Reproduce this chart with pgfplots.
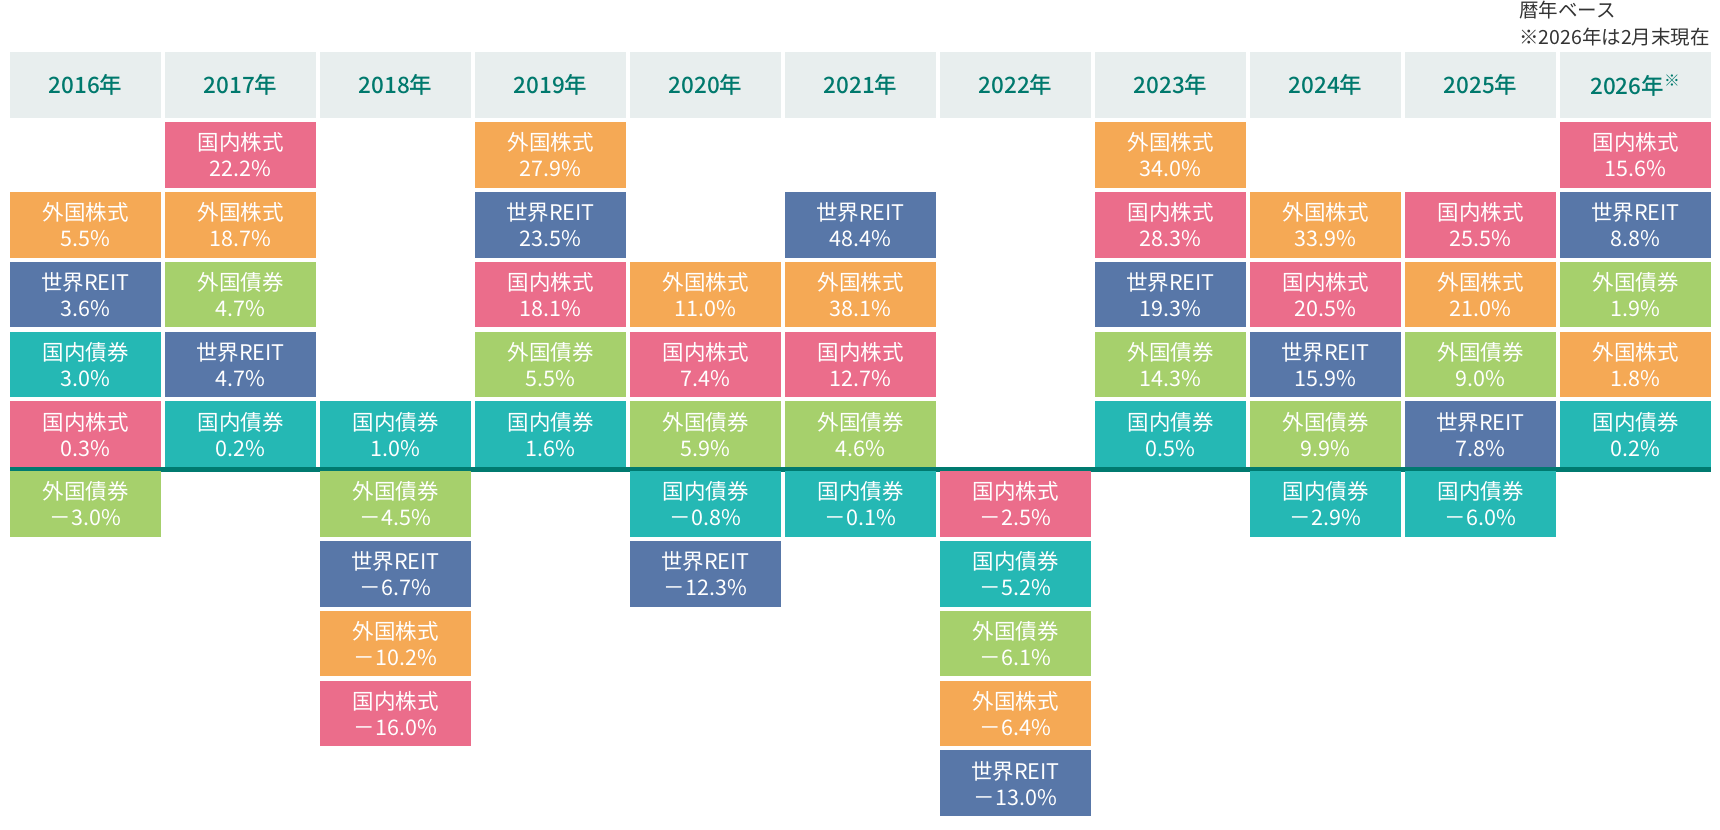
\documentclass[border=0pt]{standalone}
\usepackage{pgfplots}
\pgfplotsset{compat=1.18}
\usepackage{pgfplotstable}
\usepackage{fontspec}
\setmainfont{Noto Sans CJK JP}
\newfontfamily\headfont{Noto Sans CJK JP}[UprightFont=* Medium]

\definecolor{cPink}{HTML}{EB6D8B}
\definecolor{cOrange}{HTML}{F5A955}
\definecolor{cBlue}{HTML}{5877A8}
\definecolor{cTeal}{HTML}{25B8B4}
\definecolor{cGreen}{HTML}{A6D06C}
\definecolor{headbg}{HTML}{E8EEEE}
\definecolor{headtxt}{HTML}{00796D}
\definecolor{baseln}{HTML}{007A70}
\definecolor{note}{HTML}{333333}

% x = year index (0 = 2016), r = row (rank slot, + above / - below the line), v = return in %
\pgfplotstableread{
x r v
0 0.5 0.3
1 4.5 22.2
2 -3.5 -16.0
3 2.5 18.1
4 1.5 7.4
5 1.5 12.7
6 -0.5 -2.5
7 3.5 28.3
8 2.5 20.5
9 3.5 25.5
10 4.5 15.6
}\domstock
\pgfplotstableread{
x r v
0 3.5 5.5
1 3.5 18.7
2 -2.5 -10.2
3 4.5 27.9
4 2.5 11.0
5 2.5 38.1
6 -3.5 -6.4
7 4.5 34.0
8 3.5 33.9
9 2.5 21.0
10 1.5 1.8
}\forstock
\pgfplotstableread{
x r v
0 1.5 3.0
1 0.5 0.2
2 0.5 1.0
3 0.5 1.6
4 -0.5 -0.8
5 -0.5 -0.1
6 -1.5 -5.2
7 0.5 0.5
8 -0.5 -2.9
9 -0.5 -6.0
10 0.5 0.2
}\dombond
\pgfplotstableread{
x r v
0 -0.5 -3.0
1 2.5 4.7
2 -0.5 -4.5
3 1.5 5.5
4 0.5 5.9
5 0.5 4.6
6 -2.5 -6.1
7 1.5 14.3
8 0.5 9.9
9 1.5 9.0
10 2.5 1.9
}\forbond
\pgfplotstableread{
x r v
0 2.5 3.6
1 1.5 4.7
2 -1.5 -6.7
3 3.5 23.5
4 -1.5 -12.3
5 3.5 48.4
6 -4.5 -13.0
7 2.5 19.3
8 1.5 15.9
9 0.5 7.8
10 3.5 8.8
}\reit
\pgfplotstableread{
x r yr
0 5.5 2016
1 5.5 2017
2 5.5 2018
3 5.5 2019
4 5.5 2020
5 5.5 2021
6 5.5 2022
7 5.5 2023
8 5.5 2024
9 5.5 2025
10 5.5 2026
}\years

\pgfdeclareplotmark{cell}{%
  \pgfpathrectangle{\pgfqpoint{-37.75pt}{-16.4pt}}{\pgfqpoint{75.5pt}{32.8pt}}%
  \pgfusepathqfill}

\pgfplotsset{
  cellplot/.style 2 args={
    only marks, mark=cell, color=#1,
    point meta=explicit symbolic,
    nodes near coords align=center,
    nodes near coords={#2\\\ifdim\pgfplotspointmeta pt<0pt －\fi
      \pgfmathparse{abs(\pgfplotspointmeta)}%
      \pgfmathprintnumber[fixed,fixed zerofill,precision=1,assume math mode=true]{\pgfmathresult}\%},
    every node near coord/.append style={anchor=center, align=center, text=white,
      inner sep=0pt, font=\fontsize{10.75}{13}\selectfont},
  },
}

\begin{document}
\begin{tikzpicture}
\begin{axis}[
  width=860pt, height=415pt, scale only axis,
  xmin=-0.5516, xmax=10.545, ymin=-5.169, ymax=6.722,
  hide axis, clip=false,
]
\addplot [only marks, mark=cell, color=headbg,
  point meta=explicit symbolic,
  nodes near coords align=center,
  nodes near coords={\pgfplotspointmeta 年\ifnum\pgfplotspointmeta=2026 \textsuperscript{※}\fi},
  every node near coord/.append style={anchor=center, text=headtxt, inner sep=0pt,
    font=\headfont\fontsize{11.25}{13}\selectfont}]
  table [x=x, y=r, meta=yr] {\years};

\addplot [cellplot={cPink}{国内株式}] table [x=x, y=r, meta=v] {\domstock};
\addplot [cellplot={cOrange}{外国株式}] table [x=x, y=r, meta=v] {\forstock};
\addplot [cellplot={cTeal}{国内債券}] table [x=x, y=r, meta=v] {\dombond};
\addplot [cellplot={cGreen}{外国債券}] table [x=x, y=r, meta=v] {\forbond};
\addplot [cellplot={cBlue}{世界REIT}] table [x=x, y=r, meta=v] {\reit};

\draw [line width=2.5pt, color=baseln] (axis cs:-0.487,0) -- (axis cs:10.487,0);

\node [anchor=west, align=left, inner sep=0pt, text=note,
  font=\fontsize{9.75}{13.25}\selectfont] at (axis cs:9.248,6.382)
  {暦年ベース\\※2026年は2月末現在};
\end{axis}
\pgfresetboundingbox
\path [use as bounding box] (current axis.south west) rectangle (current axis.north east);
\end{tikzpicture}
\end{document}
